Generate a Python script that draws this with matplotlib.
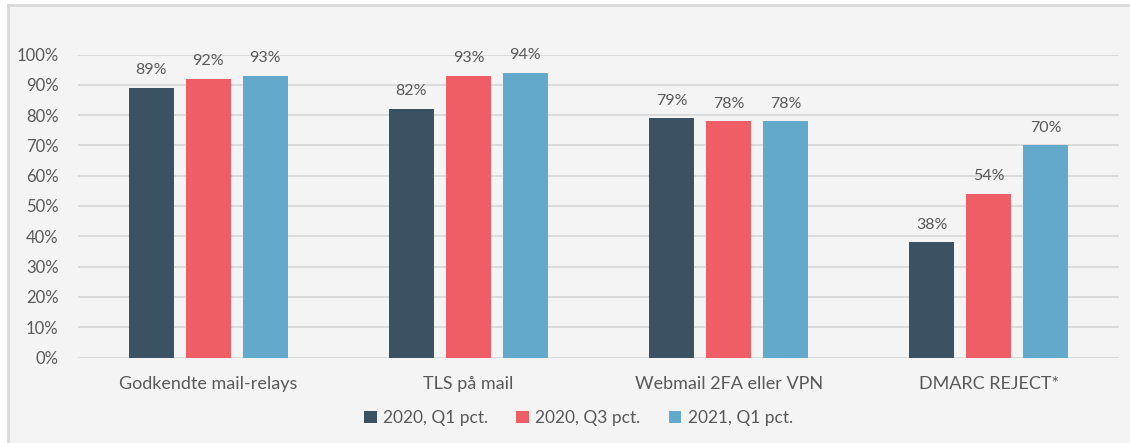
import matplotlib.pyplot as plt
import numpy as np
from matplotlib.patches import Rectangle

categories = ['Godkendte mail-relays', 'TLS på mail', 'Webmail 2FA eller VPN', 'DMARC REJECT*']
series_names = ['2020, Q1 pct.', '2020, Q3 pct.', '2021, Q1 pct.']
q1_2020 = [89, 82, 79, 38]
q3_2020 = [92, 93, 78, 54]
q1_2021 = [93, 94, 78, 70]

colors = ['#3b5262', '#ef5e67', '#62a9cc']
text_color = '#595959'
bg = '#f4f4f4'

plt.rcParams['font.family'] = ['Lato', 'DejaVu Sans']

fig = plt.figure(figsize=(11.3, 4.43), dpi=100)
fig.patch.set_facecolor('white')
# chart panel with its grey background and left/top border
fig.patches.append(Rectangle((8 / 1130, 0), 1, 1 - 5 / 443, transform=fig.transFigure,
                             facecolor=bg, edgecolor='none', zorder=-10))
fig.lines.append(plt.Line2D([8 / 1130, 8 / 1130], [0, 1 - 5 / 443], transform=fig.transFigure,
                            color='#d9d9d9', lw=2, zorder=-9))
fig.lines.append(plt.Line2D([8 / 1130, 1], [1 - 5 / 443, 1 - 5 / 443], transform=fig.transFigure,
                            color='#d9d9d9', lw=2, zorder=-9))

ax = fig.add_axes([78 / 1130, 1 - 357.5 / 443, 1041 / 1130, 303 / 443])
ax.set_facecolor('none')

x = np.arange(len(categories))
width = 0.173
step = 0.219
for i, (vals, name) in enumerate(zip([q1_2020, q3_2020, q1_2021], series_names)):
    pos = x + (i - 1) * step
    bars = ax.bar(pos, vals, width, color=colors[i], label=name, zorder=3)
    for b, v in zip(bars, vals):
        ax.text(b.get_x() + b.get_width() / 2, v + 3.5, f'{v}%', ha='center', va='bottom',
                fontsize=11.5, color=text_color)

ax.set_xlim(-0.5, len(categories) - 0.5)
ax.set_ylim(0, 100)
ax.set_yticks(range(0, 101, 10))
ax.set_yticklabels([f'{t}%' for t in range(0, 101, 10)])
ax.set_xticks(x)
ax.set_xticklabels(categories)
ax.grid(axis='y', color='#d9d9d9', lw=1.3, zorder=0)
ax.tick_params(axis='both', length=0, labelsize=12, colors=text_color)
ax.tick_params(axis='x', pad=13, labelsize=13)
ax.tick_params(axis='y', pad=14)
for s in ax.spines.values():
    s.set_visible(False)

fig.legend(loc='center', bbox_to_anchor=(0.512, 1 - 418 / 443), ncol=3, frameon=False,
           fontsize=12.5, labelcolor=text_color, handlelength=0.7, handleheight=0.7,
           handletextpad=0.4, columnspacing=1.6)

fig.savefig('out.png', dpi=100, facecolor=fig.get_facecolor())
